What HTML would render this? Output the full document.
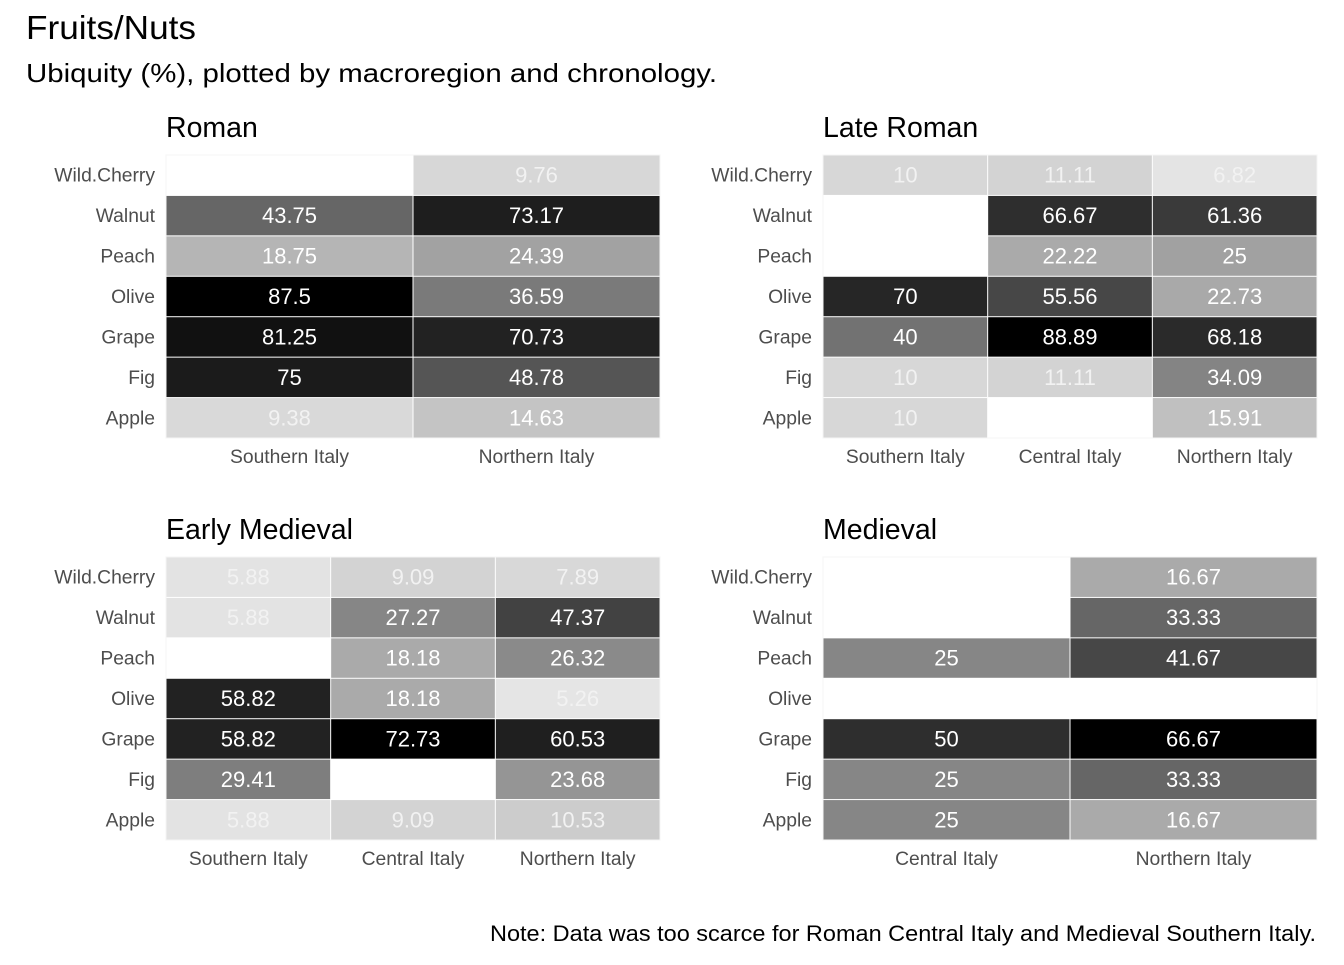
<!DOCTYPE html>
<html><head><meta charset="utf-8"><style>
body{margin:0;background:#fff;width:1344px;height:960px;overflow:hidden}
svg{font-family:"Liberation Sans",Arial,sans-serif}
</style></head><body>
<svg id="c" width="1344" height="960">
<text x="26" y="39" font-size="33" textLength="170" lengthAdjust="spacingAndGlyphs" fill="#000">Fruits/Nuts</text>
<text x="26" y="82" font-size="26" textLength="691" lengthAdjust="spacingAndGlyphs" fill="#000">Ubiquity (%), plotted by macroregion and chronology.</text>
<text x="1316" y="941" font-size="22.5" text-anchor="end" textLength="826" lengthAdjust="spacingAndGlyphs" fill="#000">Note: Data was too scarce for Roman Central Italy and Medieval Southern Italy.</text>
</svg>
<script>
const fruits = ["Wild.Cherry","Walnut","Peach","Olive","Grape","Fig","Apple"];
const romanCols = ["Southern Italy","Northern Italy"];
const romanVals = [[null,9.76],[43.75,73.17],[18.75,24.39],[87.5,36.59],[81.25,70.73],[75,48.78],[9.38,14.63]];
const lateCols = ["Southern Italy","Central Italy","Northern Italy"];
const lateVals = [[10,11.11,6.82],[null,66.67,61.36],[null,22.22,25],[70,55.56,22.73],[40,88.89,68.18],[10,11.11,34.09],[10,null,15.91]];
const earlyCols = ["Southern Italy","Central Italy","Northern Italy"];
const earlyVals = [[5.88,9.09,7.89],[5.88,27.27,47.37],[null,18.18,26.32],[58.82,18.18,5.26],[58.82,72.73,60.53],[29.41,null,23.68],[5.88,9.09,10.53]];
const medCols = ["Central Italy","Northern Italy"];
const medVals = [[null,16.67],[null,33.33],[25,41.67],[null,null],[50,66.67],[25,33.33],[25,16.67]];

const panels = [
 {name:"Roman",cols:romanCols,vals:romanVals,x0:166,x1:660,y0:155,y1:438},
 {name:"Late Roman",cols:lateCols,vals:lateVals,x0:823,x1:1317,y0:155,y1:438},
 {name:"Early Medieval",cols:earlyCols,vals:earlyVals,x0:166,x1:660,y0:557,y1:840},
 {name:"Medieval",cols:medCols,vals:medVals,x0:823,x1:1317,y0:557,y1:840}
];
const ramp=[[0,245],[0.077,228],[0.107,217],[0.167,196],[0.214,181],[0.279,162],[0.418,122],[0.5,102],[0.557,85],[0.808,34],[0.836,30],[0.929,17],[1,0]];
function grey(r){for(let i=1;i<ramp.length;i++){if(r<=ramp[i][0]){const a=ramp[i-1],b=ramp[i];const g=Math.round(a[1]+(r-a[0])/(b[0]-a[0])*(b[1]-a[1]));return `rgb(${g},${g},${g})`;}}return "rgb(0,0,0)";}
const svg=document.getElementById('c');const NS="http://www.w3.org/2000/svg";
function mk(t,a,p){const e=document.createElementNS(NS,t);for(const k in a)e.setAttribute(k,a[k]);(p||svg).appendChild(e);return e;}
panels.forEach(p=>{
 const g=mk('g',{});
 
 
 const t=mk('text',{x:p.x0,y:p.y0-18,'font-size':28.5,fill:'#000'},g);t.textContent=p.name;
 
 
 const max=Math.max(...p.vals.flat().filter(v=>v!=null));
 const cw=(p.x1-p.x0)/p.cols.length, rh=(p.y1-p.y0)/fruits.length;
 const xs=i=>p.x0+i*cw, ys=j=>p.y0+j*rh;
 mk('rect',{x:p.x0,y:p.y0,width:p.x1-p.x0,height:p.y1-p.y0,fill:'#fff',stroke:'#f5f5f5','stroke-width':1},g);
 fruits.forEach((f,j)=>{
  const l=mk('text',{x:p.x0-11,y:ys(j)+rh/2+6.5,'font-size':19.3,'text-anchor':'end',fill:'#4d4d4d'},g);l.textContent=f;
  
  
  p.cols.forEach((c,i)=>{
   const v=p.vals[j][i]; if(v==null) return;
   const r=mk('rect',{x:xs(i)+0.5,y:ys(j)+0.5,width:cw-1,height:rh-1,fill:grey(v/max)},g);
   
   
   const tx=mk('text',{x:xs(i)+cw/2,y:ys(j)+rh/2+7.5,'font-size':22,'text-anchor':'middle',fill:v/max<0.15?'#f2f2f2':'#fff'},g);tx.textContent=String(v);
   
   
  });
 });
 p.cols.forEach((c,i)=>{
  const l=mk('text',{x:xs(i)+cw/2,y:p.y1+25,'font-size':19.3,'text-anchor':'middle',fill:'#4d4d4d'},g);l.textContent=c;
  
  
 });
});
</script>
</body></html>
